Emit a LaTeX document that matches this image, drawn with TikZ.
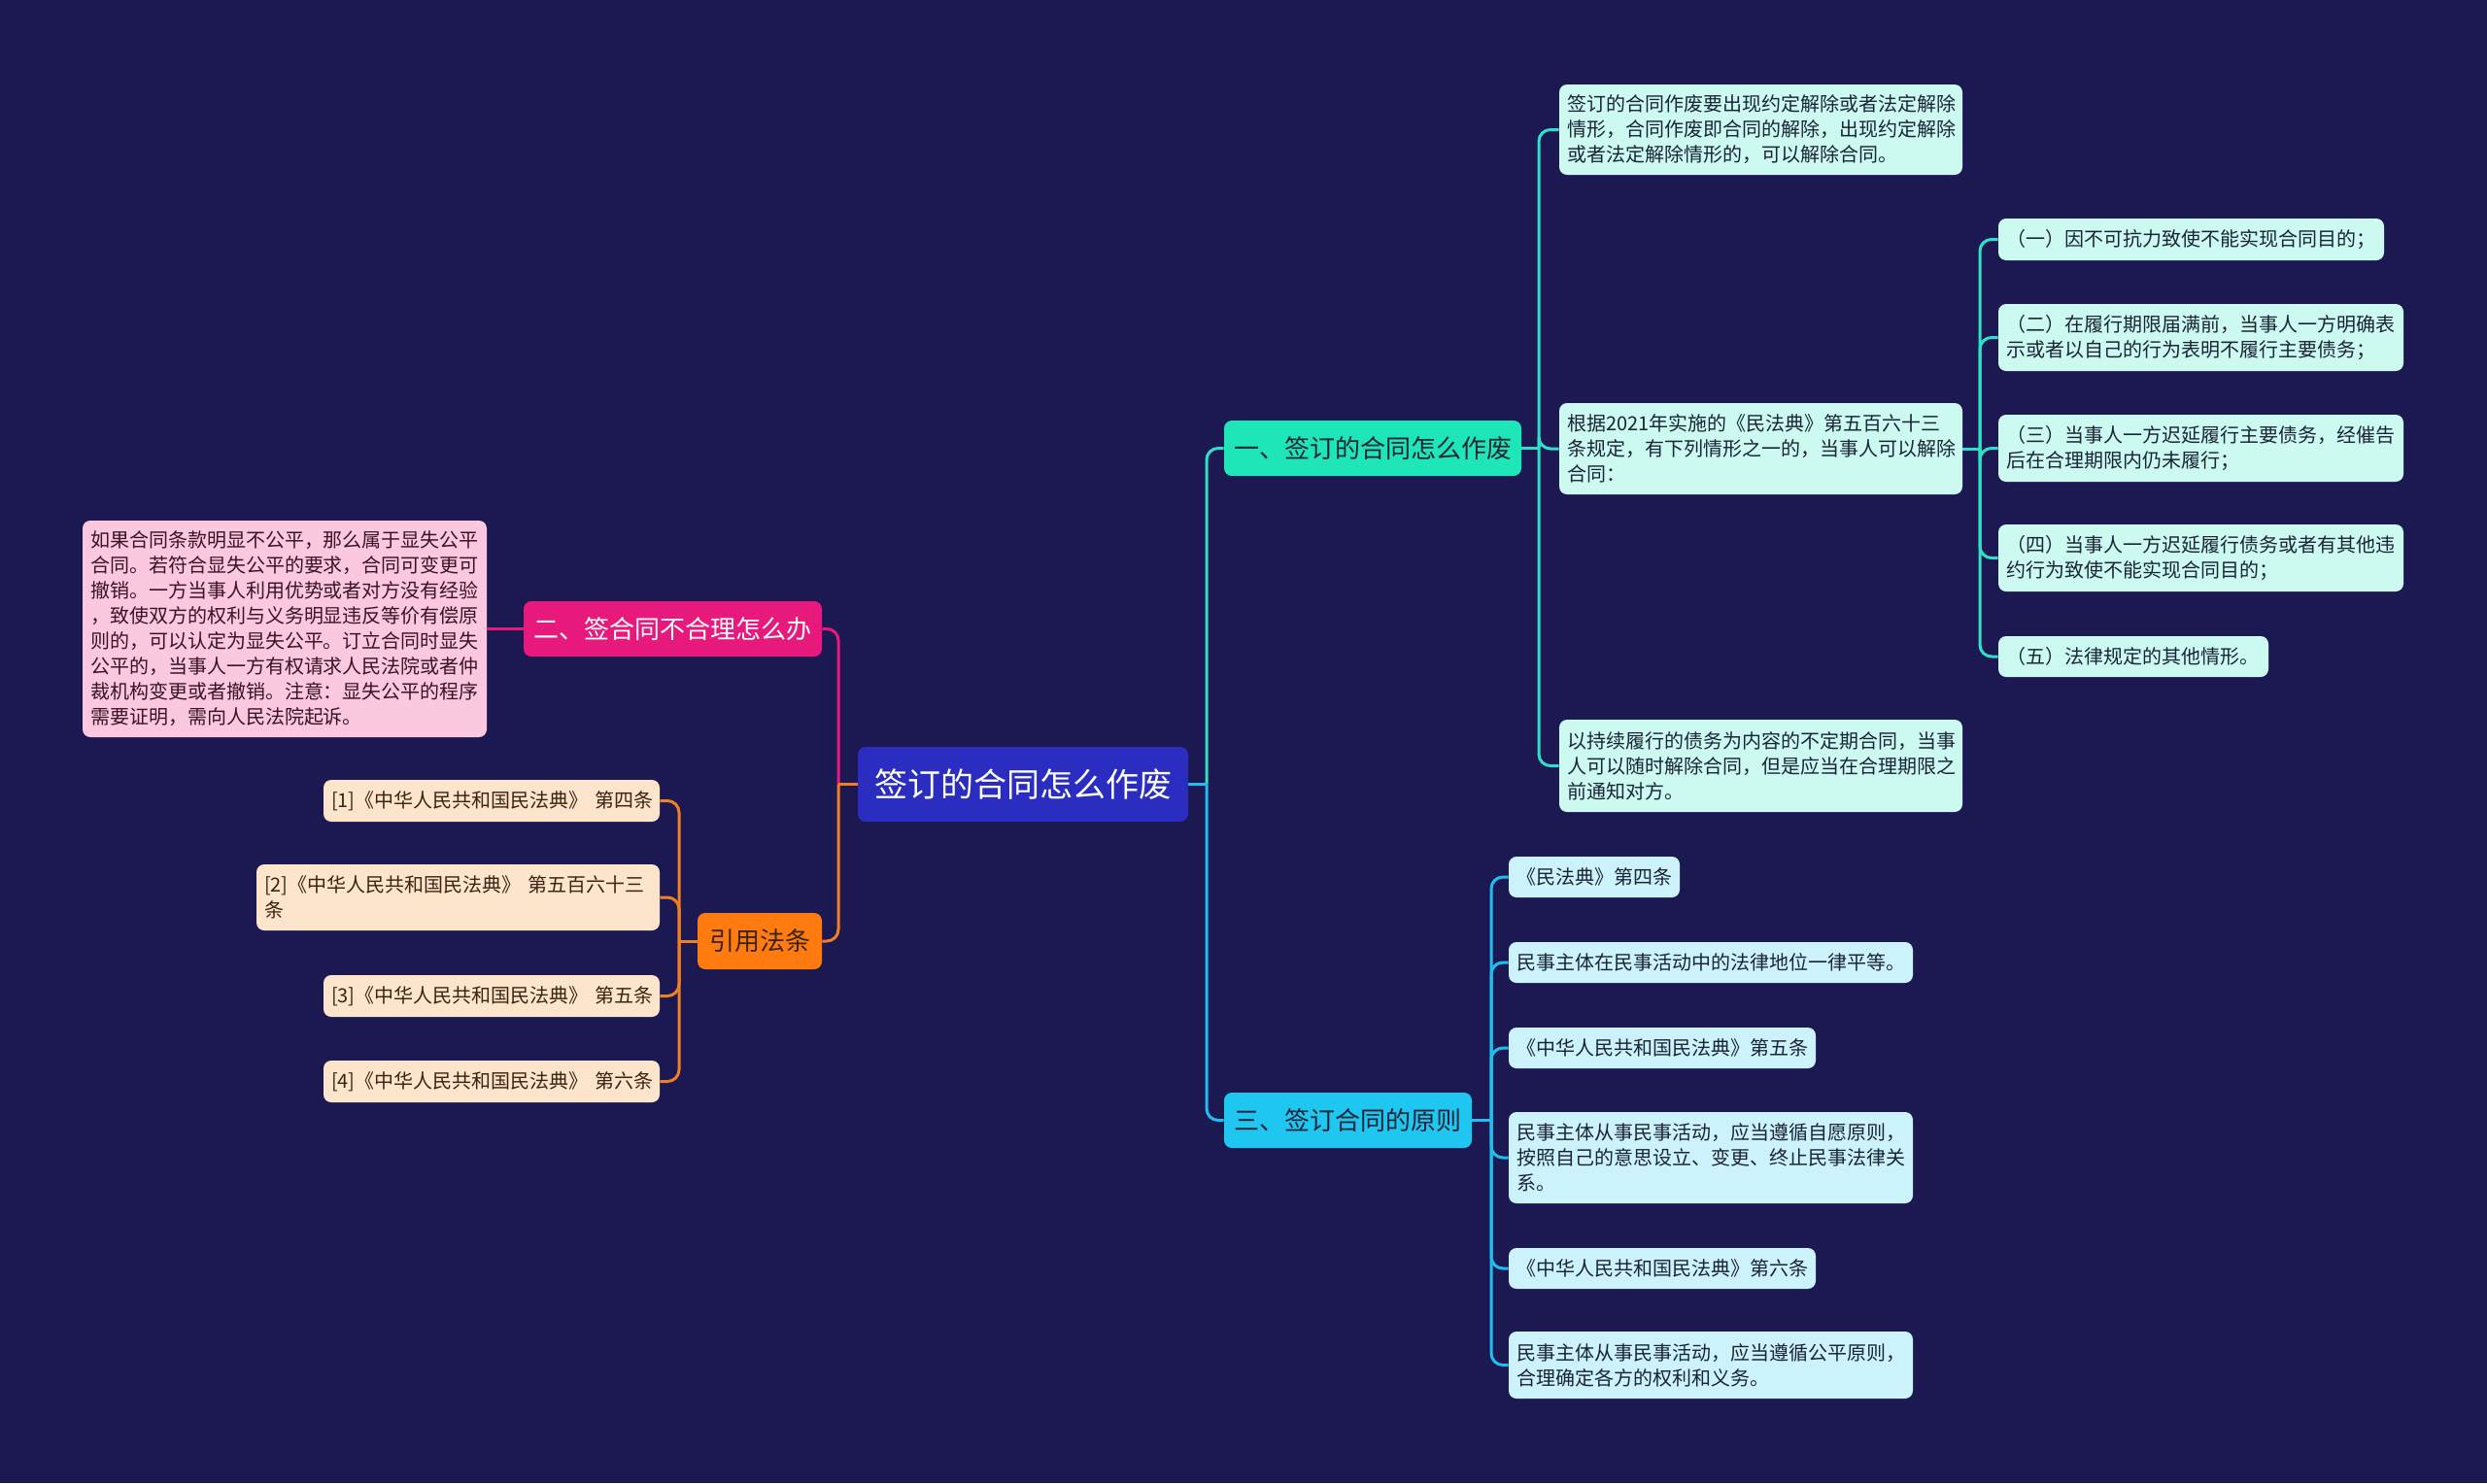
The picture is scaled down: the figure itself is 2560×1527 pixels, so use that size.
\documentclass[tikz,border=0pt]{standalone}
\usepackage{fontspec}
\setmainfont{Noto Sans CJK SC}
\definecolor{bg}{HTML}{1B1852}
\definecolor{rootfill}{HTML}{2A2DC0}
\definecolor{tealfill}{HTML}{1EE6B9}
\definecolor{tealline}{HTML}{30E0C8}
\definecolor{bluefill}{HTML}{1FC6F0}
\definecolor{blueline}{HTML}{1FBEEE}
\definecolor{pinkfill}{HTML}{E8197D}
\definecolor{orangefill}{HTML}{FF7B10}
\definecolor{orangeline}{HTML}{F08024}
\definecolor{mintleaf}{HTML}{CCFAF0}
\definecolor{blueleaf}{HTML}{CCF2FC}
\definecolor{pinkleaf}{HTML}{FCC8E0}
\definecolor{peachleaf}{HTML}{FDE5CC}
\definecolor{darktext}{HTML}{1A2438}
\definecolor{pinktext}{HTML}{3A1424}
\definecolor{browntext}{HTML}{3A2412}
\tikzset{
  base/.style={rounded corners=4pt, inner ysep=0pt, anchor=center},
  leaf/.style={base, inner xsep=4pt, align=left, font=\fontsize{10pt}{13pt}\selectfont},
  mainbox/.style={base, inner sep=0pt, align=center, font=\fontsize{13pt}{16pt}\selectfont},
  conn/.style={line width=1.5pt},
  rc/.style={rounded corners=6pt}
}
\begin{document}
\begin{tikzpicture}[x=0.5pt,y=-0.5pt]
\fill[bg] (0,0) rectangle (2560,1527);
\useasboundingbox (0,0) rectangle (2560,1527);

% main nodes
\node[base, inner sep=0pt, fill=rootfill, text=white, minimum width=170pt, minimum height=38.5pt, font=\fontsize{17pt}{20pt}\selectfont] (root) at (1053,807.5) {签订的合同怎么作废};
\node[mainbox, fill=tealfill, text=darktext, minimum width=153pt, minimum height=28.5pt] (n1) at (1413,461.5) {一、签订的合同怎么作废};
\node[mainbox, fill=pinkfill, text=white, minimum width=153.5pt, minimum height=28.5pt] (n2) at (692.5,647.5) {二、签合同不合理怎么办};
\node[mainbox, fill=orangefill, text=browntext, minimum width=64pt, minimum height=29pt] (n4) at (782,969) {引用法条};
\node[mainbox, fill=bluefill, text=darktext, minimum width=127.5pt, minimum height=28.5pt] (n3) at (1387.5,1153.5) {三、签订合同的原则};

% branch 1 leaves
\node[leaf, fill=mintleaf, text=darktext, text width=199.5pt, minimum height=46.5pt] (a1) at (1812.5,133.5) {签订的合同作废要出现约定解除或者法定解除\\情形，合同作废即合同的解除，出现约定解除\\或者法定解除情形的，可以解除合同。};
\node[leaf, fill=mintleaf, text=darktext, text width=199.5pt, minimum height=47pt] (a2) at (1812.5,462) {根据2021年实施的《民法典》第五百六十三\\条规定，有下列情形之一的，当事人可以解除\\合同：};
\node[leaf, fill=mintleaf, text=darktext, text width=199.5pt, minimum height=47.5pt] (a3) at (1812.5,788.5) {以持续履行的债务为内容的不定期合同，当事\\人可以随时解除合同，但是应当在合理期限之\\前通知对方。};

\node[leaf, fill=mintleaf, text=darktext, text width=190.5pt, minimum height=21.5pt] (b1) at (2255.5,246.5) {（一）因不可抗力致使不能实现合同目的；};
\node[leaf, fill=mintleaf, text=darktext, text width=200.5pt, minimum height=34.5pt] (b2) at (2265.5,347.5) {（二）在履行期限届满前，当事人一方明确表\\示或者以自己的行为表明不履行主要债务；};
\node[leaf, fill=mintleaf, text=darktext, text width=200.5pt, minimum height=34.5pt] (b3) at (2265.5,461.5) {（三）当事人一方迟延履行主要债务，经催告\\后在合理期限内仍未履行；};
\node[leaf, fill=mintleaf, text=darktext, text width=200.5pt, minimum height=34.5pt] (b4) at (2265.5,574.5) {（四）当事人一方迟延履行债务或者有其他违\\约行为致使不能实现合同目的；};
\node[leaf, fill=mintleaf, text=darktext, text width=131pt, minimum height=21pt] (b5) at (2196,676) {（五）法律规定的其他情形。};

% branch 3 leaves
\node[leaf, fill=blueleaf, text=darktext, text width=80pt, minimum height=21pt] (c1) at (1641,903) {《民法典》第四条};
\node[leaf, fill=blueleaf, text=darktext, text width=200pt, minimum height=21pt] (c2) at (1761,991) {民事主体在民事活动中的法律地位一律平等。};
\node[leaf, fill=blueleaf, text=darktext, text width=150pt, minimum height=21pt] (c3) at (1711,1079) {《中华人民共和国民法典》第五条};
\node[leaf, fill=blueleaf, text=darktext, text width=200pt, minimum height=47pt] (c4) at (1761,1192) {民事主体从事民事活动，应当遵循自愿原则，\\按照自己的意思设立、变更、终止民事法律关\\系。};
\node[leaf, fill=blueleaf, text=darktext, text width=150pt, minimum height=21pt] (c5) at (1711,1306) {《中华人民共和国民法典》第六条};
\node[leaf, fill=blueleaf, text=darktext, text width=200pt, minimum height=34.5pt] (c6) at (1761,1405.5) {民事主体从事民事活动，应当遵循公平原则，\\合理确定各方的权利和义务。};

% branch 2 leaf
\node[leaf, fill=pinkleaf, text=pinktext, text width=200pt, minimum height=111.5pt] (l1) at (293,647.5) {如果合同条款明显不公平，那么属于显失公平\\合同。若符合显失公平的要求，合同可变更可\\撤销。一方当事人利用优势或者对方没有经验\\，致使双方的权利与义务明显违反等价有偿原\\则的，可以认定为显失公平。订立合同时显失\\公平的，当事人一方有权请求人民法院或者仲\\裁机构变更或者撤销。注意：显失公平的程序\\需要证明，需向人民法院起诉。};

% references leaves
\node[leaf, fill=peachleaf, text=browntext, text width=165pt, minimum height=21.5pt] (r1) at (506,824.5) {\mbox{[1]《中华人民共和国民法典》 第四条}};
\node[leaf, fill=peachleaf, text=browntext, text width=199.5pt, minimum height=34pt] (r2) at (471.5,924) {\mbox{[2]《中华人民共和国民法典》 第五百六十三}\\条};
\node[leaf, fill=peachleaf, text=browntext, text width=165pt, minimum height=21.5pt] (r3) at (506,1025.5) {\mbox{[3]《中华人民共和国民法典》 第五条}};
\node[leaf, fill=peachleaf, text=browntext, text width=165pt, minimum height=21.5pt] (r4) at (506,1113.5) {\mbox{[4]《中华人民共和国民法典》 第六条}};

% trunk coordinates
\coordinate (tr) at (1242,807.5);
\coordinate (tl) at (863,807.5);
\coordinate (t1) at (1584,461.5);
\coordinate (t2) at (2038,462);
\coordinate (t3) at (1535,1153.5);
\coordinate (t4) at (699,969);

% root to right branches
\draw[conn, tealline, rc] (tr) |- (n1.west);
\draw[conn, blueline, rc] (tr) |- (n3.west);
\draw[conn, blueline] (root.east) -- (tr);
% root to left branches
\draw[conn, pinkfill, rc] (tl) |- (n2.east);
\draw[conn, orangeline, rc] (tl) |- (n4.east);
\draw[conn, orangeline] (root.west) -- (tl);

% branch 1
\draw[conn, tealline] (n1.east) -- (t1);
\foreach \c in {a1,a2,a3} \draw[conn, tealline, rc] (t1) |- (\c.west);
\draw[conn, tealline] (a2.east) -- (t2);
\foreach \c in {b1,b2,b3,b4,b5} \draw[conn, tealline, rc] (t2) |- (\c.west);

% branch 3
\draw[conn, blueline] (n3.east) -- (t3);
\foreach \c in {c1,c2,c3,c4,c5,c6} \draw[conn, blueline, rc] (t3) |- (\c.west);

% branch 2
\draw[conn, pinkfill] (n2.west) -- (l1.east);

% references
\draw[conn, orangeline] (n4.west) -- (t4);
\foreach \c in {r1,r2,r3,r4} \draw[conn, orangeline, rc] (t4) |- (\c.east);
\end{tikzpicture}
\end{document}
